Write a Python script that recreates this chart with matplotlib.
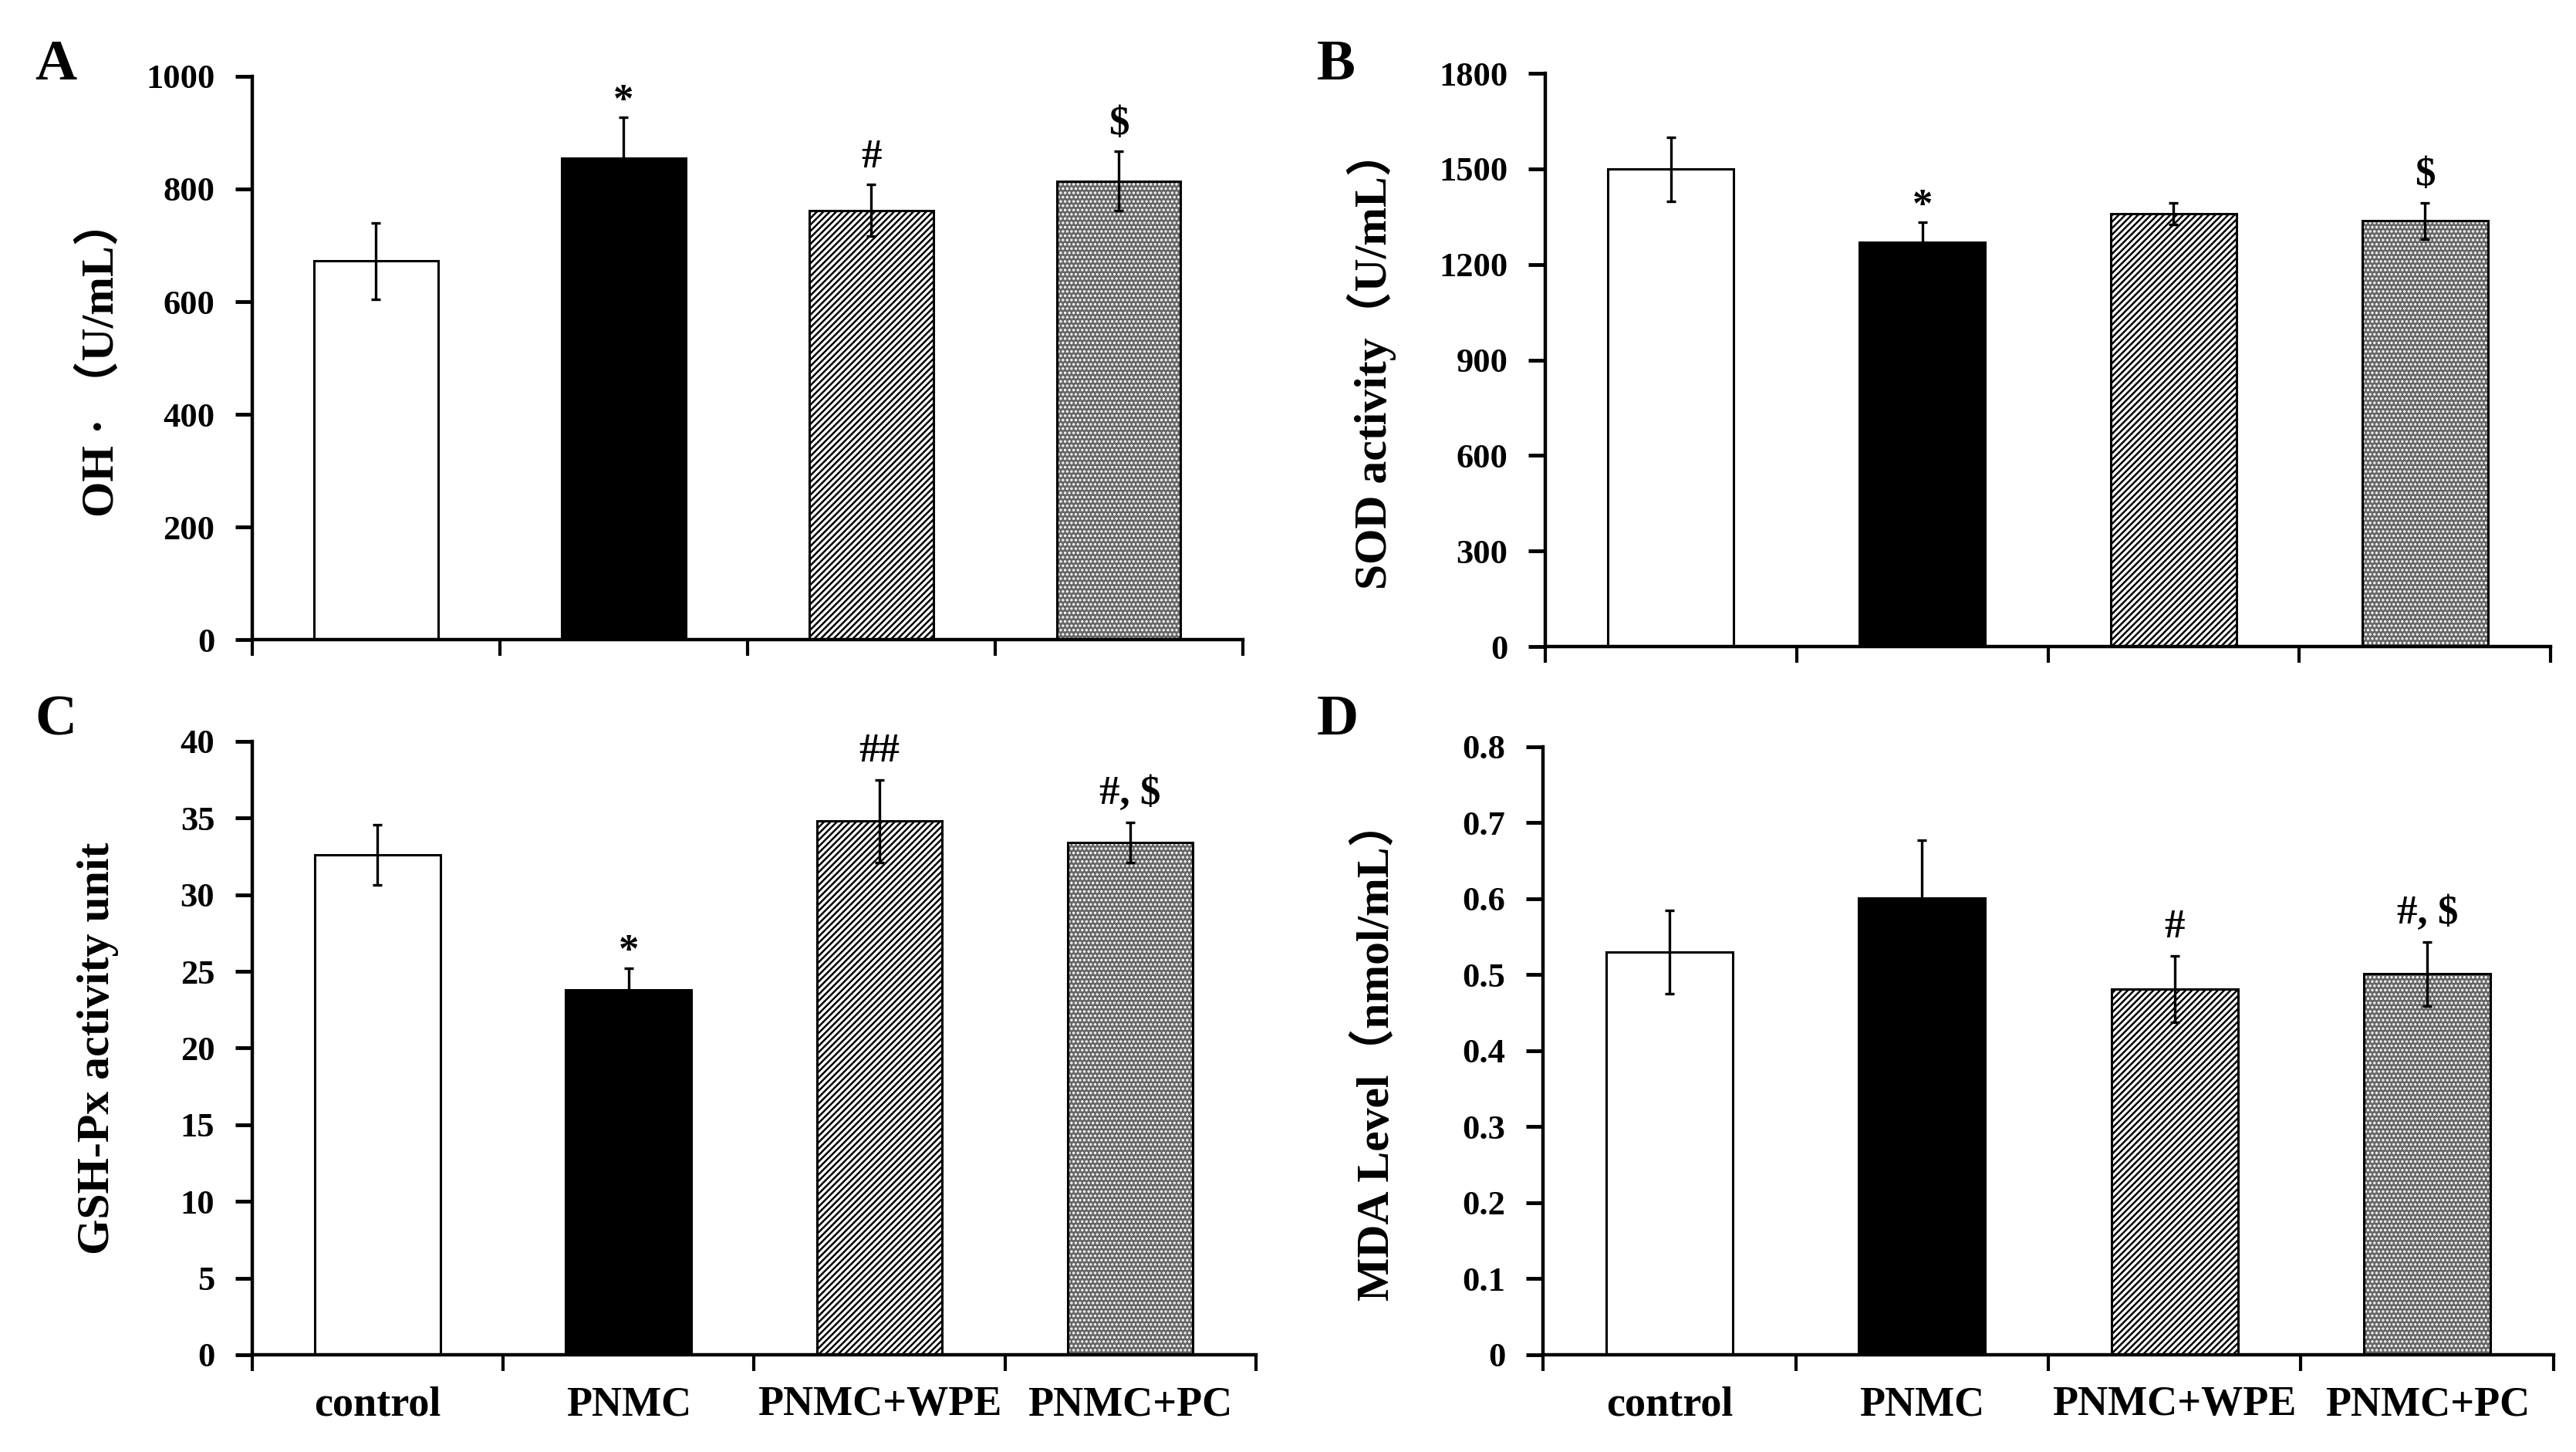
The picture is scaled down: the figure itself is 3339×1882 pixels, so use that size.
import numpy as np
import matplotlib
matplotlib.use("Agg")
import matplotlib.pyplot as plt
from matplotlib.ticker import MultipleLocator, FuncFormatter, FixedLocator

plt.rcParams['font.family'] = ['Liberation Serif', 'Noto Sans CJK SC', 'DejaVu Sans']
plt.rcParams['font.weight'] = 'bold'

groups = ["control", "PNMC", "PNMC+WPE", "PNMC+PC"]

oh_mean = [672, 855, 762, 814]
oh_err = [68, 72, 46, 53]
oh_marks = ["", "*", "#", "$"]

sod_mean = [1499, 1269, 1360, 1337]
sod_err = [101, 63, 34, 57]
sod_marks = ["", "*", "", "$"]

gsh_mean = [32.6, 23.8, 34.8, 33.4]
gsh_err = [1.97, 1.4, 2.7, 1.3]
gsh_marks = ["", "*", "##", "#, $"]

mda_mean = [0.530, 0.601, 0.481, 0.501]
mda_err = [0.055, 0.076, 0.044, 0.042]
mda_marks = ["", "", "#", "#, $"]

panels = [
    # letter, means, errs, marks, ylabel, ymax, step, rect, show xlabels
    ("A", oh_mean, oh_err, oh_marks, "OH · （U/mL）", 1000, 200,
     [0.0979, 0.5595, 0.3845, 0.3879], False),
    ("B", sod_mean, sod_err, sod_marks, "SOD activity（U/mL）", 1800, 300,
     [0.5999, 0.5547, 0.3902, 0.3948], False),
    ("C", gsh_mean, gsh_err, gsh_marks, "GSH-Px activity unit", 40, 5,
     [0.0979, 0.0670, 0.3896, 0.4224], True),
    ("D", mda_mean, mda_err, mda_marks, "MDA Level（nmol/mL）", 0.8, 0.1,
     [0.5990, 0.0670, 0.3923, 0.4187], True),
]

letter_pos = {"A": (45, 103), "B": (1707, 103), "C": (45, 952), "D": (1707, 952)}
label_x = {"A": -0.130, "B": -0.148, "C": -0.133, "D": -0.143}

W, H = 3339, 1882
fig = plt.figure(figsize=(W / 100, H / 100), dpi=100)

x = np.arange(len(groups))
bw = 0.5
lw = 2.2

for letter, means, errs, marks, ylabel, ymax, step, rect, show_x in panels:
    ax = fig.add_axes(rect)

    # control and PNMC: plain
    ax.bar(x[0], means[0], bw, color="white", edgecolor="black", linewidth=lw, zorder=2)
    ax.bar(x[1], means[1], bw, color="black", edgecolor="black", linewidth=lw, zorder=2)

    # PNMC+WPE: dense diagonal hatching
    with plt.rc_context({'hatch.linewidth': 1.8}):
        ax.bar(x[2], means[2], bw, color="white", edgecolor="black", hatch="////",
               linewidth=lw, zorder=2)

    # PNMC+PC: grey with white dots, then black outline
    with plt.rc_context({'hatch.linewidth': 1.6}):
        ax.bar(x[3], means[3], bw, color="#666666", edgecolor="white", hatch="...",
               linewidth=0, zorder=2)
    ax.bar(x[3], means[3], bw, color="none", edgecolor="black", linewidth=lw, zorder=3)

    ax.errorbar(x, means, yerr=errs, fmt="none", ecolor="black", elinewidth=2.4,
                capsize=4, capthick=2.4, zorder=4)

    for xi, m, e, t in zip(x, means, errs, marks):
        if not t:
            continue
        pad = 0.01 if t == "*" else 0.03
        ax.text(xi, m + e + pad * ymax, t, ha="center", va="baseline",
                fontsize=38, fontweight="bold")

    ax.set_xlim(-0.5, len(groups) - 0.5)
    ax.set_ylim(0, ymax)
    ax.yaxis.set_major_locator(MultipleLocator(step))
    ax.yaxis.set_major_formatter(FuncFormatter(lambda v, p: "%g" % round(v, 3)))

    ax.xaxis.set_major_locator(FixedLocator(x))
    ax.xaxis.set_minor_locator(FixedLocator(np.arange(-0.5, len(groups), 1.0)))
    if show_x:
        ax.set_xticklabels(groups)
    else:
        ax.set_xticklabels([])
    ax.tick_params(axis="x", which="major", length=0, pad=29, labelsize=39)
    ax.tick_params(axis="x", which="minor", length=15, width=3, direction="out")
    ax.tick_params(axis="y", length=16, width=3.5, direction="out", pad=19, labelsize=32)

    for s in ("top", "right"):
        ax.spines[s].set_visible(False)
    for s in ("left", "bottom"):
        ax.spines[s].set_linewidth(3.2)

    ax.set_ylabel(ylabel, fontsize=43, fontweight="bold")
    ax.yaxis.set_label_coords(label_x[letter], 0.5)

    lx, ly = letter_pos[letter]
    fig.text(lx / W, 1 - ly / H, letter, fontsize=54, fontweight="bold",
             ha="left", va="baseline")

fig.savefig("out.png", dpi=100)
